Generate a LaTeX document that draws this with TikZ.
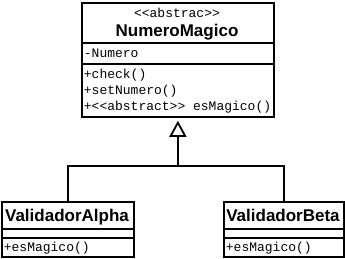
\documentclass[tikz,border=0pt]{standalone}
\usepackage{fontspec}
\setmainfont{Liberation Sans}
\setmonofont{Liberation Mono}
\usetikzlibrary{arrows.meta,positioning}

\begin{document}
\begin{tikzpicture}[x=1pt, y=-1pt, line width=1.8pt, >={Triangle[open, width=17pt, length=16pt]},
  cls/.style={draw, rectangle, inner sep=0pt, anchor=north west},
  nm/.style={font=\bfseries\fontsize{17}{17}\selectfont, anchor=base},
  mb/.style={font=\ttfamily\fontsize{13}{16}\selectfont, anchor=base west, inner sep=0pt}]
\useasboundingbox (0,0) rectangle (345,258);
% abstract class
\node[cls, minimum width=192pt, minimum height=114pt] (magico) at (81,2) {};
\node[mb, anchor=base] (stereo) at (177,17) {<<abstrac>>};
\node[nm] (magiconm) at (177,36) {NumeroMagico};
\foreach \y in {43,64} \draw (magico.west |- 0,\y) -- (magico.east |- 0,\y);
\node[mb] (attr) at (83,57) {-Numero};
\foreach \t [count=\i] in {+check(), +setNumero(), +<<abstract>> esMagico()}
  \node[mb] (op\i) at (83,62+16*\i) {\t};
% subclasses
\foreach \n/\x/\w/\l in {alpha/1/132/ValidadorAlpha, beta/223/120/ValidadorBeta} {
  \node[cls, minimum width=\w pt, minimum height=55pt] (\n) at (\x,201) {};
  \node[nm] (\n nm) at (\x+\w/2,221) {\l};
  \foreach \y in {229,238} \draw (\n.west |- 0,\y) -- (\n.east |- 0,\y);
  \node[mb] (\n op) at (\x+2,251) {+esMagico()};
}
% inheritance
\coordinate (j) at (magico.south |- 0,166);
\draw (alpha.north) |- (j);
\draw (beta.north) |- (j);
\draw[->, shorten >=3pt] (j) -- (magico.south);
\end{tikzpicture}
\end{document}
